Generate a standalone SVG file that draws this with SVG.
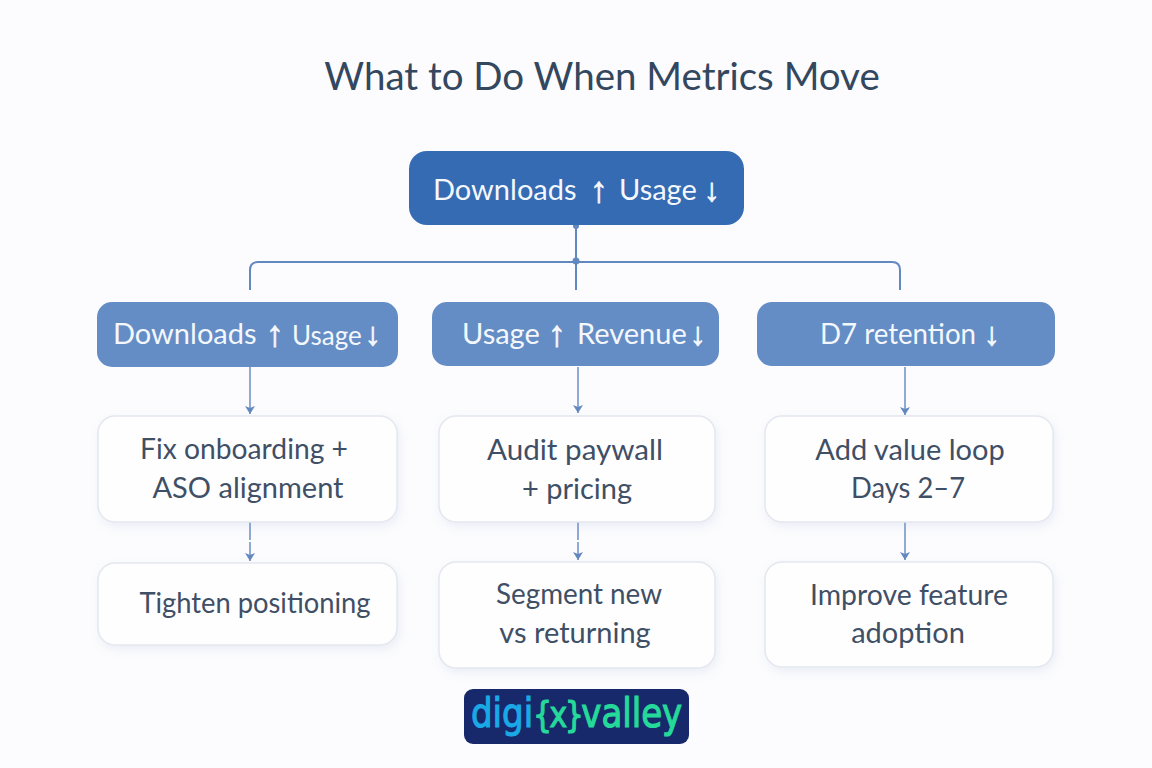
<svg xmlns="http://www.w3.org/2000/svg" width="1152" height="768" viewBox="0 0 1152 768">
<defs>
<filter id="sh" x="-10%" y="-15%" width="120%" height="135%"><feDropShadow dx="2" dy="4" stdDeviation="5" flood-color="#8ea3c8" flood-opacity="0.16"/></filter>
<marker id="ah" viewBox="0 0 8 10" refX="8" refY="5" markerWidth="8" markerHeight="10" markerUnits="userSpaceOnUse" orient="auto"><path d="M0 0 L8 5 L0 10 L2 5 Z" fill="#6288c0"/></marker>
</defs>
<style>
text{font-family:Lato,"Noto Sans","DejaVu Sans",sans-serif}
.t{font-size:38.5px;fill:#33475f;text-anchor:middle}
.h{font-size:29px;fill:#f4f7fc}
.s{font-size:26px}
.b{font-size:29px;fill:#3f4f65;text-anchor:middle}
.a{font-family:"Liberation Sans",sans-serif;font-size:36px;fill:#f4f7fc;stroke:#f4f7fc;stroke-width:0.8;text-anchor:middle}
.dn{font-size:32px}
.root{fill:#346bb2}
.mid{fill:#648dc5}
.box{fill:#fefeff;stroke:#e4e7ef;stroke-width:1.5;filter:url(#sh)}
.c{fill:none;stroke:#6288c0;stroke-width:2}
.d{fill:none;stroke:#6288c0;stroke-width:1.4;marker-end:url(#ah)}
.logo{font-family:"DejaVu Sans",sans-serif;font-size:41px;stroke-width:1.2}
.lb{fill:#1aa9e6;stroke:#1aa9e6}
.lg{fill:#25d99a;stroke:#25d99a}
.lx{font-size:36px;letter-spacing:-3px}
</style>
<rect width="1152" height="768" fill="#fcfcfe"/>
<text class="t" x="602" y="90">What to Do When Metrics Move</text>
<g id="connectors">
<path class="c" d="M576 225V290"/>
<path class="c" d="M250 290V270Q250 262 258 262H892Q900 262 900 270V290"/>
<circle cx="576" cy="261" r="3.5" fill="#6288c0"/><circle cx="576" cy="226" r="3" fill="#6288c0"/>
<path class="d" d="M250 367V414"/><path class="d" d="M578 367V413"/><path class="d" d="M905 367V415"/>
<path class="d" d="M250 522V561" stroke-dasharray="18 2 60"/><path class="d" d="M578 522V560" stroke-dasharray="18 2 60"/><path class="d" d="M905 522V560"/>
</g>
<g id="root"><rect class="root" x="409" y="151" width="335" height="74" rx="18"/><text class="h" x="433" y="200">Downloads</text><text class="a" x="599" y="202">↑</text><text class="h" x="619" y="200">Usage</text><text class="a dn" x="712" y="201">↓</text></g>
<g id="h1"><rect class="mid" x="97" y="302" width="301" height="65" rx="15"/><text class="h" x="113" y="344">Downloads</text><text class="a" x="275" y="346">↑</text><text class="h s" x="292" y="345">Usage</text><text class="a dn" x="373" y="345">↓</text></g>
<g id="h2"><rect class="mid" x="432" y="302" width="287" height="64" rx="15"/><text class="h" x="462" y="344">Usage</text><text class="a" x="557" y="346">↑</text><text class="h" x="577" y="344">Revenue</text><text class="a dn" x="698" y="345">↓</text></g>
<g id="h3"><rect class="mid" x="757" y="302" width="298" height="64" rx="15"/><text class="h" x="820" y="344" textLength="156" lengthAdjust="spacingAndGlyphs">D7 retention</text><text class="a dn" x="992" y="345">↓</text></g>
<g id="n1"><rect class="box" x="98" y="416" width="299" height="106" rx="17"/><text class="b" x="244" y="459" textLength="208" lengthAdjust="spacingAndGlyphs">Fix onboarding +</text><text class="b" x="248" y="498">ASO alignment</text></g>
<g id="n2"><rect class="box" x="439" y="416" width="276" height="106" rx="17"/><text class="b" x="575" y="460" textLength="176" lengthAdjust="spacingAndGlyphs">Audit paywall</text><text class="b" x="577" y="499">+ pricing</text></g>
<g id="n3"><rect class="box" x="765" y="416" width="288" height="106" rx="17"/><text class="b" x="910" y="460">Add value loop</text><text class="b" x="908" y="498" textLength="114" lengthAdjust="spacingAndGlyphs">Days 2–7</text></g>
<g id="n4"><rect class="box" x="98" y="563" width="299" height="82" rx="17"/><text class="b" x="255" y="613" textLength="231" lengthAdjust="spacingAndGlyphs">Tighten positioning</text></g>
<g id="n5"><rect class="box" x="439" y="562" width="276" height="106" rx="17"/><text class="b" x="579" y="604" textLength="166" lengthAdjust="spacingAndGlyphs">Segment new</text><text class="b" x="575" y="643">vs returning</text></g>
<g id="n6"><rect class="box" x="765" y="562" width="288" height="105" rx="17"/><text class="b" x="909" y="605" textLength="198" lengthAdjust="spacingAndGlyphs">Improve feature</text><text class="b" x="908" y="643">adoption</text></g>
<g id="logo"><rect x="464" y="689" width="225" height="55" rx="9" fill="#17296b"/><text class="logo" transform="translate(471 727) scale(0.83 1)"><tspan class="lb">digi</tspan><tspan class="lg lx">{x}</tspan><tspan class="lg">valley</tspan></text></g>
</svg>
